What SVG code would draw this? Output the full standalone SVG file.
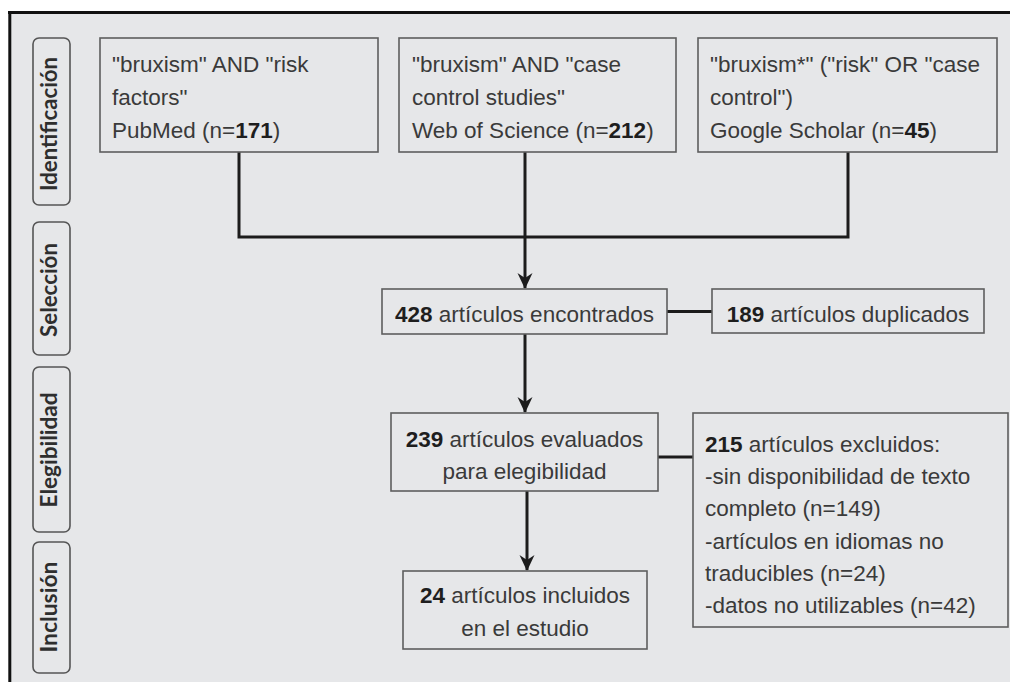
<svg xmlns="http://www.w3.org/2000/svg" width="1010" height="682" viewBox="0 0 1010 682">
<style>
  .bg{fill:#e6e7e9}
  .box{fill:#e6e7e9;stroke:#5e5e5e;stroke-width:1.6}
  .lab{fill:#e6e7e9;stroke:#555;stroke-width:1.6}
  .t{font-family:"Liberation Sans",Arial,sans-serif;font-size:22.5px;fill:#3a3a3a}
  .c{text-anchor:middle}
  .b{font-weight:bold;fill:#1e1e1e}
  .lt{font-family:Lato,"Open Sans",sans-serif;font-weight:bold;font-size:22px;fill:#2e2e2e;text-anchor:middle}
  .con{fill:none;stroke:#1c1c1c;stroke-width:3}
  .side{fill:none;stroke:#1c1c1c;stroke-width:3}
</style>
<defs>
  <marker id="arr" viewBox="0 0 16 16" refX="15" refY="8" markerWidth="16" markerHeight="16" markerUnits="userSpaceOnUse" orient="auto">
    <path d="M0,0.5 L16,8 L0,15.5 L5,8 Z" fill="#1c1c1c"/>
  </marker>
</defs>
<rect x="0" y="0" width="1010" height="682" fill="#ffffff"/>
<rect class="bg" x="10" y="13" width="1000" height="669"/>
<path d="M8,12.5 H1010 M9.8,11 V682" fill="none" stroke="#111" stroke-width="3"/>

<g id="label-identificacion">
  <rect class="lab" x="33" y="38" width="37" height="167" rx="6"/>
  <text class="lt" transform="translate(57,124) rotate(-90)" textLength="134" lengthAdjust="spacingAndGlyphs">Identificación</text>
</g>
<g id="label-seleccion">
  <rect class="lab" x="33" y="222" width="37" height="133" rx="6"/>
  <text class="lt" transform="translate(57,290) rotate(-90)" textLength="94" lengthAdjust="spacingAndGlyphs">Selección</text>
</g>
<g id="label-elegibilidad">
  <rect class="lab" x="33" y="367" width="37" height="165" rx="6"/>
  <text class="lt" transform="translate(57,450) rotate(-90)" textLength="115" lengthAdjust="spacingAndGlyphs">Elegibilidad</text>
</g>
<g id="label-inclusion">
  <rect class="lab" x="33" y="542" width="37" height="131" rx="6"/>
  <text class="lt" transform="translate(57,607) rotate(-90)" textLength="91" lengthAdjust="spacingAndGlyphs">Inclusión</text>
</g>

<g id="connectors">
  <path class="con" d="M239,152 V237 H848 V152"/>
  <path class="con" d="M525,152 V288" marker-end="url(#arr)"/>
  <path class="side" d="M667,311.5 H712"/>
  <path class="con" d="M525,334 V412" marker-end="url(#arr)"/>
  <path class="side" d="M658,457 H693"/>
  <path class="con" d="M527,491 V570" marker-end="url(#arr)"/>
</g>

<g id="node-pubmed">
  <rect class="box" x="100" y="38" width="278" height="114"/>
  <text class="t" x="112" y="72">"bruxism" AND "risk</text>
  <text class="t" x="112" y="105">factors"</text>
  <text class="t" x="112" y="138">PubMed (n=<tspan class="b">171</tspan>)</text>
</g>
<g id="node-wos">
  <rect class="box" x="399" y="38" width="277" height="114"/>
  <text class="t" x="412" y="72">"bruxism" AND "case</text>
  <text class="t" x="412" y="105">control studies"</text>
  <text class="t" x="412" y="138">Web of Science (n=<tspan class="b">212</tspan>)</text>
</g>
<g id="node-scholar">
  <rect class="box" x="698" y="38" width="299" height="114"/>
  <text class="t" x="710" y="72">"bruxism*" ("risk" OR "case</text>
  <text class="t" x="710" y="105">control")</text>
  <text class="t" x="710" y="138">Google Scholar (n=<tspan class="b">45</tspan>)</text>
</g>
<g id="node-encontrados">
  <rect class="box" x="382" y="289" width="285" height="45"/>
  <text class="t c" x="524.5" y="321.5"><tspan class="b">428</tspan> artículos encontrados</text>
</g>
<g id="node-duplicados">
  <rect class="box" x="712" y="289" width="272" height="44"/>
  <text class="t c" x="848" y="322"><tspan class="b">189</tspan> artículos duplicados</text>
</g>
<g id="node-evaluados">
  <rect class="box" x="391" y="413" width="267" height="78"/>
  <text class="t c" x="524.5" y="447"><tspan class="b">239</tspan> artículos evaluados</text>
  <text class="t c" x="524.5" y="479">para elegibilidad</text>
</g>
<g id="node-excluidos">
  <rect class="box" x="693" y="413" width="315" height="214"/>
  <text class="t" x="705" y="452"><tspan class="b">215</tspan> artículos excluidos:</text>
  <text class="t" x="705" y="484">-sin disponibilidad de texto</text>
  <text class="t" x="705" y="516">completo (n=149)</text>
  <text class="t" x="705" y="549">-artículos en idiomas no</text>
  <text class="t" x="705" y="581">traducibles (n=24)</text>
  <text class="t" x="705" y="613">-datos no utilizables (n=42)</text>
</g>
<g id="node-incluidos">
  <rect class="box" x="403" y="571" width="244" height="78"/>
  <text class="t c" x="525" y="603"><tspan class="b">24</tspan> artículos incluidos</text>
  <text class="t c" x="525" y="636">en el estudio</text>
</g>
</svg>
